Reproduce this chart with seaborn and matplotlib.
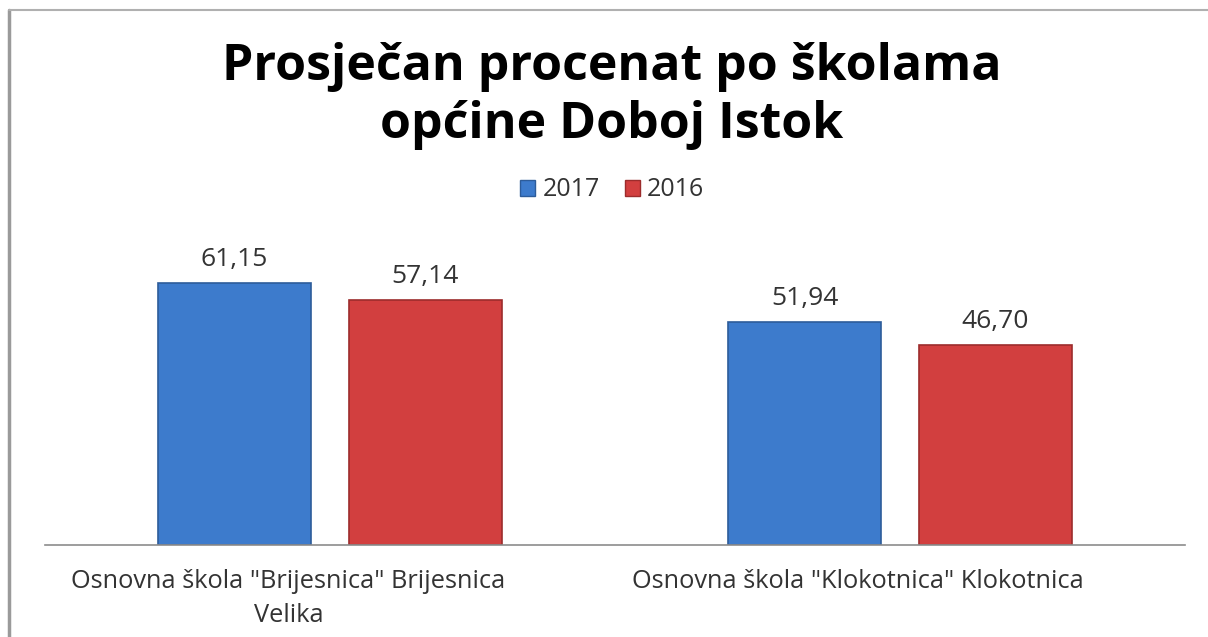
import pandas as pd
import matplotlib.pyplot as plt
import seaborn as sns
from matplotlib.lines import Line2D
from matplotlib.patches import Patch

# data
schools = ['Osnovna škola "Brijesnica" Brijesnica\nVelika',
           'Osnovna škola "Klokotnica" Klokotnica']
years = ["2017", "2016"]
vals_2017 = [61.15, 51.94]
vals_2016 = [57.14, 46.70]
colors = {"2017": "#3D7BCC", "2016": "#D23F3F"}
edges = {"2017": "#2D5C9A", "2016": "#9C2C2C"}

df = pd.DataFrame({
    "school": schools * 2,
    "year": ["2017"] * 2 + ["2016"] * 2,
    "value": vals_2017 + vals_2016,
})

sns.set_theme(style="white")
plt.rcParams["font.family"] = ["Open Sans", "DejaVu Sans"]

W, H = 1208, 637
fig = plt.figure(figsize=(W / 100, H / 100), dpi=100)
ax = fig.add_axes([45 / W, 92 / H, 1140 / W, 300 / H])

sns.barplot(data=df, x="school", y="value", hue="year", hue_order=years,
            order=schools, palette=colors, width=0.67, gap=0.2, saturation=1,
            errorbar=None, ax=ax, legend=False)

for cont, yr in zip(ax.containers, years):
    for bar in cont:
        bar.set_edgecolor(edges[yr])
        bar.set_linewidth(1.2)
    ax.bar_label(cont, labels=[f"{v:.2f}".replace(".", ",") for v in cont.datavalues],
                 padding=8, fontsize=19, color="#333333")

ax.set_ylim(0, 70)
ax.set_xlim(-0.5, 1.5)
ax.set_xlabel("")
ax.set_ylabel("")
ax.set_yticks([])
ax.set_xticks(range(len(schools)), labels=[""] * len(schools))
ax.tick_params(axis="x", length=0)
for s in ["top", "right", "left"]:
    ax.spines[s].set_visible(False)
ax.spines["bottom"].set_color("#8c8c8c")
ax.spines["bottom"].set_linewidth(1.2)

# category labels (sit a little left of the bar groups in the original)
for i, name in enumerate(schools):
    ax.annotate(name, xy=(i, 0), xycoords=("data", "axes fraction"),
                xytext=(-30, -17), textcoords="offset points", ha="center", va="top",
                multialignment="center", linespacing=1.5, fontsize=18.3,
                color="#333333")

handles = [Patch(facecolor=colors[y], edgecolor=edges[y]) for y in years]
fig.legend(handles, years, loc="center", bbox_to_anchor=(612 / W, 1 - 190 / H),
           ncol=2, frameon=False, fontsize=18, handlelength=0.6, handleheight=0.6,
           handletextpad=0.3, columnspacing=1.0, labelcolor="#333333")

fig.text(612 / W, 1 - 42 / H, "Prosječan procenat po školama\nopćine Doboj Istok",
         ha="center", va="top", fontsize=36, fontweight="bold", color="black",
         linespacing=1.22)

# chart frame (cropped on right and bottom)
fig.add_artist(Line2D([9 / W, 9 / W], [0, 1 - 10 / H], color="#9a9a9a", lw=2.5))
fig.add_artist(Line2D([9 / W, 1], [1 - 10 / H, 1 - 10 / H], color="#b0b0b0", lw=1.5))

fig.savefig("out.png", dpi=100)
